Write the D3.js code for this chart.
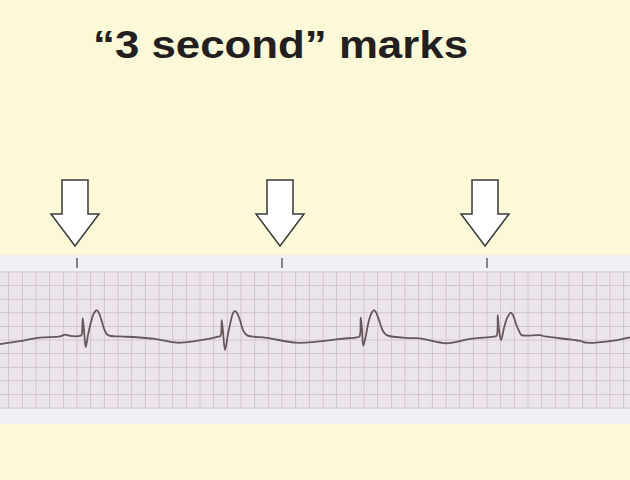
<!DOCTYPE html>
<html>
<head>
<meta charset="utf-8">
<script src="https://cdn.jsdelivr.net/npm/d3@7"></script>
<style>
  html, body { margin: 0; padding: 0; background: #fcf9d9; }
  svg { display: block; }
</style>
</head>
<body>
<script>
// ---- Data ----
const title = "\u201c3 second\u201d marks";
// 3-second marks (seconds)
const marks = [1, 4, 7];
// ECG trace: time (s) and amplitude (mV)
const traceTime = [-0.127, 0.166, 0.459, 0.751, 0.824, 0.898, 1.044, 1.066, 1.083, 1.102, 1.127, 1.161, 1.205, 1.249, 1.288, 1.322, 1.366, 1.410, 1.454, 1.629, 1.820, 2.142, 2.463, 2.727, 2.946, 3.064, 3.100, 3.118, 3.137, 3.166, 3.210, 3.254, 3.283, 3.312, 3.342, 3.385, 3.429, 3.484, 3.776, 4.215, 4.508, 4.849, 5.093, 5.134, 5.152, 5.171, 5.190, 5.229, 5.273, 5.317, 5.347, 5.376, 5.420, 5.478, 5.532, 5.873, 6.020, 6.410, 6.751, 7.093, 7.139, 7.157, 7.176, 7.205, 7.249, 7.293, 7.347, 7.381, 7.425, 7.469, 7.508, 7.776, 7.849, 8.361, 8.459, 8.800, 9.093];
const traceMv = [-0.15, -0.04, 0.09, 0.13, 0.20, 0.15, 0.15, 0.18, 0.80, 0.37, -0.26, 0.18, 0.66, 0.99, 1.10, 0.99, 0.66, 0.33, 0.18, 0.13, 0.11, 0.04, -0.10, -0.04, 0.05, 0.12, 0.15, 0.73, 0.29, -0.37, 0.22, 0.73, 0.99, 1.06, 0.99, 0.73, 0.37, 0.18, 0.08, -0.10, -0.06, 0.04, 0.10, 0.13, 0.82, 0.37, -0.21, 0.18, 0.73, 1.02, 1.10, 1.02, 0.73, 0.33, 0.18, 0.07, 0.06, -0.12, 0.04, 0.12, 0.15, 0.91, 0.37, 0.00, 0.44, 0.80, 1.01, 0.91, 0.59, 0.33, 0.18, 0.18, 0.13, -0.03, -0.10, -0.04, 0.10];

// ---- Layout ----
const W = 630, H = 480;
const stripTop = 255, stripBottom = 424;
const gridTop = 272, gridBottom = 408;

const svg = d3.select("body").append("svg").attr("width", W).attr("height", H);

svg.append("rect").attr("width", W).attr("height", H).attr("fill", "#fcf9d9");

// scales: 25 mm/s paper, 10 mm/mV
const pxPerSec = 205 / 3;
const x = d3.scaleLinear()
  .domain([1 - 77 / pxPerSec, 1 + (W - 77) / pxPerSec])
  .range([0, W]);
const y = d3.scaleLinear().domain([-2.5, 2.5]).range([gridBottom, gridTop]);

// Title
svg.append("text")
  .attr("x", 93).attr("y", 58)
  .attr("textLength", 375).attr("lengthAdjust", "spacingAndGlyphs")
  .attr("font-family", "Liberation Sans, Arial, Helvetica, sans-serif")
  .attr("font-weight", "bold").attr("font-size", 38)
  .attr("fill", "#231f20")
  .text(title);

// Strip
svg.append("rect").attr("x", 0).attr("y", stripTop).attr("width", W)
  .attr("height", stripBottom - stripTop).attr("fill", "#eef0f4");
svg.append("rect").attr("x", 0).attr("y", gridTop).attr("width", W)
  .attr("height", gridBottom - gridTop).attr("fill", "#efe9f0");

const [t0, t1] = x.domain();
const minorT = [], majorT = [];
for (let k = Math.ceil((t0 - 1) / 0.04); 1 + k * 0.04 <= t1; k++) {
  const t = 1 + k * 0.04;
  (k % 5 === 0 ? majorT : minorT).push(t);
}
const minorV = [], majorV = [];
for (let k = -25; k <= 25; k++) {
  (k % 5 === 0 ? majorV : minorV).push(k * 0.1);
}
const g = svg.append("g");
g.selectAll(".vmin").data(minorT).join("line")
  .attr("x1", d => x(d)).attr("x2", d => x(d))
  .attr("y1", gridTop).attr("y2", gridBottom)
  .attr("stroke", "#e6dde7").attr("stroke-width", 0.5);
g.selectAll(".hmin").data(minorV).join("line")
  .attr("x1", 0).attr("x2", W)
  .attr("y1", d => y(d)).attr("y2", d => y(d))
  .attr("stroke", "#e6dde7").attr("stroke-width", 0.5);
g.selectAll(".vmaj").data(majorT).join("line")
  .attr("x1", d => x(d)).attr("x2", d => x(d))
  .attr("y1", gridTop).attr("y2", gridBottom)
  .attr("stroke", "#cfc0cf").attr("stroke-width", 1);
g.selectAll(".hmaj").data(majorV).join("line")
  .attr("x1", 0).attr("x2", W)
  .attr("y1", d => y(d)).attr("y2", d => y(d))
  .attr("stroke", "#cfc0cf").attr("stroke-width", 1);

// ECG trace
const pts = traceTime.map((t, i) => [t, traceMv[i]]);
svg.append("path")
  .attr("d", d3.line().x(d => x(d[0])).y(d => y(d[1])).curve(d3.curveCatmullRom.alpha(0.5))(pts))
  .attr("fill", "none").attr("stroke", "#66575a").attr("stroke-width", 1.8)
  .attr("stroke-linejoin", "round");

// Tick marks
svg.selectAll(".tick").data(marks).join("line")
  .attr("x1", d => x(d)).attr("x2", d => x(d))
  .attr("y1", 258).attr("y2", 268)
  .attr("stroke", "#555").attr("stroke-width", 1.4);

// Arrows
const arrow = cx => {
  const sw = 13, hw = 24, top = 180, neck = 214, tip = 246;
  return `M${cx - sw},${top} L${cx + sw},${top} L${cx + sw},${neck} L${cx + hw},${neck} L${cx},${tip} L${cx - hw},${neck} L${cx - sw},${neck} Z`;
};
svg.selectAll(".arrow").data(marks).join("path")
  .attr("d", d => arrow(x(d) - 2))
  .attr("fill", "#ffffff").attr("stroke", "#3a3a3a").attr("stroke-width", 1.5)
  .attr("stroke-linejoin", "miter");
</script>
</body>
</html>
